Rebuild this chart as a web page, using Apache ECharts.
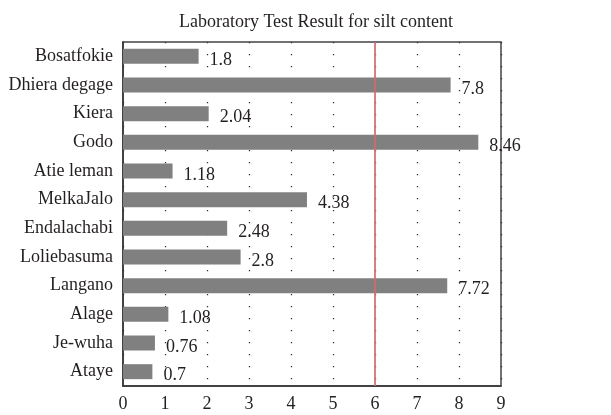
<!DOCTYPE html>
<html>
<head>
<meta charset="utf-8">
<script src="https://cdn.jsdelivr.net/npm/echarts@6/dist/echarts.min.js"></script>
<style>
  html, body { margin: 0; padding: 0; background: #fff; }
  #chart { width: 611px; height: 415px; }
</style>
</head>
<body>
<div id="chart"></div>
<script>
// data
var sites = ['Bosatfokie', 'Dhiera degage', 'Kiera', 'Godo', 'Atie leman', 'MelkaJalo',
  'Endalachabi', 'Loliebasuma', 'Langano', 'Alage', 'Je-wuha', 'Ataye']
var silt = [1.8, 7.8, 2.04, 8.46, 1.18, 4.38, 2.48, 2.8, 7.72, 1.08, 0.76, 0.7]
var limit = 6
var xTicks = [0, 1, 2, 3, 4, 5, 6, 7, 8, 9]

var font = 'Liberation Serif'
var chart = echarts.init(document.getElementById('chart'))
var option = {
  backgroundColor: '#fff',
  animation: false,
  title: {
    text: 'Laboratory Test Result for silt content',
    left: 311,
    textAlign: 'center',
    top: 8,
    textStyle: { fontFamily: font, fontSize: 18, fontWeight: 'normal', color: '#231f20' }
  },
  grid: {
    left: 123, right: 110, top: 42, bottom: 29,
    show: true, borderColor: '#444', borderWidth: 1.5
  },
  xAxis: {
    type: 'value',
    min: xTicks[0],
    max: xTicks[xTicks.length - 1],
    interval: 1,
    axisLine: { show: true, lineStyle: { color: '#333', width: 1.5 } },
    axisTick: { show: false },
    axisLabel: { fontFamily: font, fontSize: 18, color: '#231f20', margin: 9 },
    splitLine: { show: true, lineStyle: { color: '#333', width: 1.3, type: [1.3, 10.7] } }
  },
  yAxis: {
    type: 'category',
    data: sites,
    inverse: true,
    axisLine: { show: true, lineStyle: { color: '#333', width: 1.5 } },
    axisTick: { show: false },
    axisLabel: { fontFamily: font, fontSize: 18, color: '#231f20', margin: 10 },
    splitLine: { show: false }
  },
  series: [{
    type: 'bar',
    data: silt,
    barWidth: 15,
    itemStyle: { color: '#808080' },
    label: {
      show: true,
      position: 'right',
      distance: 11,
      offset: [0, 4],
      fontFamily: font,
      fontSize: 18,
      color: '#231f20'
    },
    markLine: {
      symbol: 'none',
      silent: true,
      label: { show: false },
      lineStyle: { color: '#d46a6f', width: 2, type: 'solid', opacity: 0.85 },
      data: [{ xAxis: limit }]
    }
  }]
}
chart.setOption(option)
</script>
</body>
</html>
